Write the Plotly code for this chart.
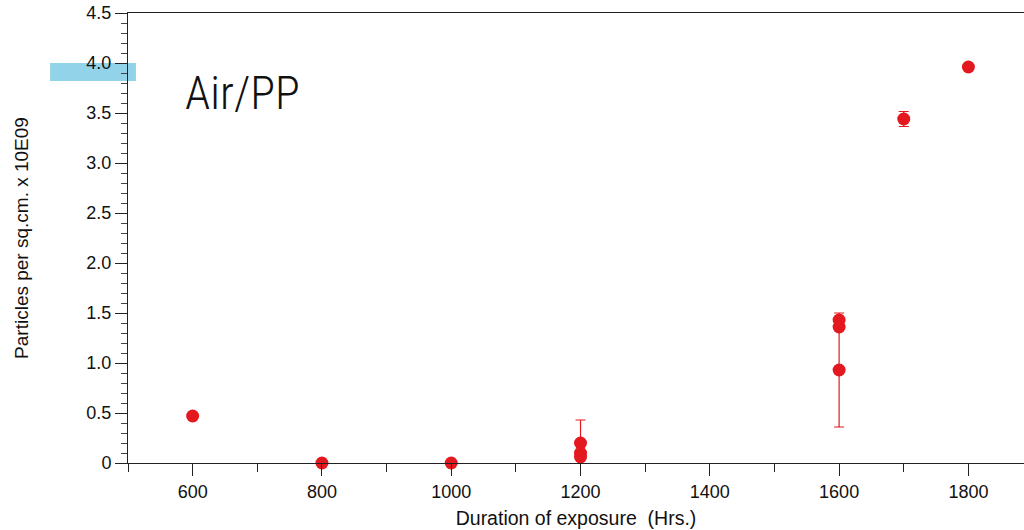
import plotly.graph_objects as go

# Data
hours_main = [600, 800, 1000, 1200, 1200, 1200, 1600, 1600, 1600, 1700, 1800]
particles = [0.47, 0.0, 0.0, 0.20, 0.10, 0.06, 1.43, 1.36, 0.93, 3.44, 3.96]
err = [0, 0, 0, 0.23, 0, 0, 0, 0, 0.57, 0.075, 0]

x_tickvals = [600, 800, 1000, 1200, 1400, 1600, 1800]
y_tickvals = [0, 0.5, 1.0, 1.5, 2.0, 2.5, 3.0, 3.5, 4.0, 4.5]
y_ticktext = ["0", "0.5", "1.0", "1.5", "2.0", "2.5", "3.0", "3.5", "4.0", "4.5"]

RED = "#e3191f"
SANS = "Liberation Sans, Arial, sans-serif"

fig = go.Figure()
fig.add_trace(go.Scatter(
    x=hours_main, y=particles, mode="markers",
    marker=dict(color=RED, size=13, line=dict(width=0)),
    error_y=dict(type="data", array=err, visible=True, color=RED,
                 thickness=1.2, width=5),
    cliponaxis=False, showlegend=False,
))

# light blue highlight band near 4.0
fig.add_shape(type="rect", xref="paper", yref="y",
              x0=-0.087, x1=0.0089, y0=3.82, y1=4.0,
              fillcolor="#93d3ea", line=dict(width=0), layer="below")

fig.add_annotation(text="Air/PP", xref="x", yref="y", x=585, y=3.99,
                   xanchor="left", yanchor="top", showarrow=False,
                   font=dict(family="Roboto Condensed, DejaVu Sans Condensed", size=46,
                             weight=300, color="#111111"))

fig.update_layout(
    width=1024, height=530,
    margin=dict(l=128, r=0, t=13, b=67),
    paper_bgcolor="white", plot_bgcolor="rgba(0,0,0,0)",
    font=dict(family=SANS, color="#111111"),
    xaxis=dict(range=[500, 1886], tickvals=x_tickvals, automargin=False,
               ticks="outside", ticklen=12, tickcolor="#222",
               tickfont=dict(size=18),
               showline=True, linecolor="#222", linewidth=1, mirror=True,
               showgrid=False, zeroline=False,
               minor=dict(dtick=100, ticks="outside", ticklen=8, tickcolor="#222"),
               title=dict(text="Duration of exposure  (Hrs.)",
                          font=dict(size=19.5), standoff=10)),
    yaxis=dict(range=[0, 4.5], tickvals=y_tickvals, ticktext=y_ticktext,
               automargin=False,
               ticks="outside", ticklen=12, tickcolor="#222",
               tickfont=dict(size=18),
               showline=True, linecolor="#222", linewidth=1,
               showgrid=False, zeroline=False,
               minor=dict(dtick=0.1, ticks="outside", ticklen=6, tickcolor="#444"),
               title=dict(text="Particles per sq.cm. x 10E09", font=dict(size=19),
                          standoff=52)),
)

fig.write_html("out.html", config={"displayModeBar": False},
               post_script="document.body.style.margin='0px';document.body.style.overflow='hidden';")
